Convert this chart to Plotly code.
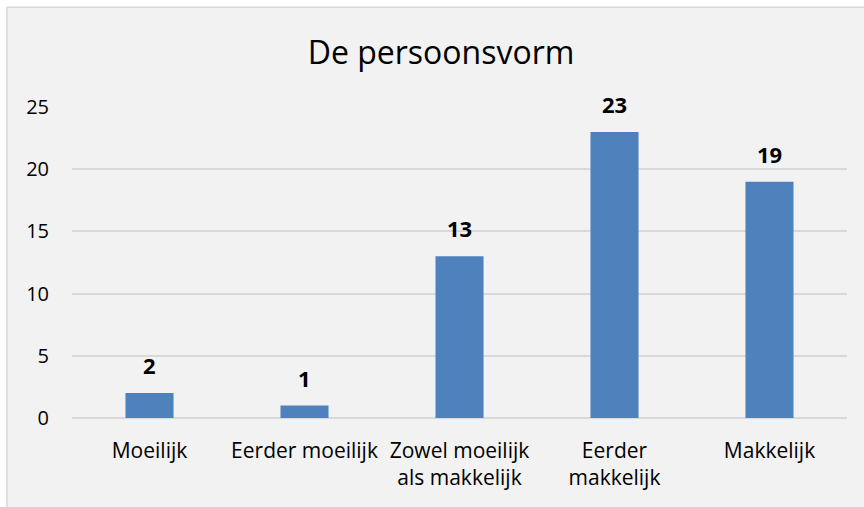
import plotly.graph_objects as go

categories = ["Moeilijk", "Eerder moeilijk", "Zowel moeilijk<br>als makkelijk", "Eerder<br>makkelijk", "Makkelijk"]
values = [2, 1, 13, 23, 19]
y_ticks = [0, 5, 10, 15, 20, 25]
title_text = "De persoonsvorm"

FONT = "Open Sans"
BAR_COLOR = "#4F81BD"
GRID = "#D9D9D9"

fig = go.Figure()
fig.add_trace(go.Bar(
    x=categories, y=values,
    marker=dict(color=BAR_COLOR, line=dict(width=0)),
    hoverinfo="skip",
))

for c, v in zip(categories, values):
    fig.add_annotation(x=c, y=v, text=f"<b>{v}</b>", showarrow=False,
                       yanchor="middle", yshift=28,
                       font=dict(family=FONT, size=22, color="#000000"))

# chart area background with border (top/left visible)
fig.add_shape(type="rect", xref="paper", yref="paper",
              x0=(7 - 72) / 775, x1=1.1, y0=-0.4, y1=(418.5 - 7) / 311.5,
              fillcolor="#F2F2F2", line=dict(color=GRID, width=1.5), layer="below")

fig.update_layout(
    width=864, height=507,
    margin=dict(l=72, r=17, t=107, b=88.5),
    paper_bgcolor="#FFFFFF",
    plot_bgcolor="rgba(0,0,0,0)",
    bargap=0.69,
    showlegend=False,
    font=dict(family=FONT, size=21, color="#000000"),
    title=dict(text=title_text, x=441 / 864, xanchor="center", xref="container",
               y=1 - 53 / 507, yanchor="middle", yref="container",
               font=dict(family=FONT, size=32, color="#000000")),
)
fig.update_xaxes(showgrid=False, showline=False, zeroline=False, ticks="",
                 tickfont=dict(family=FONT, size=21, color="#000000"),
                 ticklabelstandoff=18)
fig.update_yaxes(range=[0, 25], tickvals=y_ticks, showgrid=True, gridcolor=GRID,
                 gridwidth=1.5, zeroline=True, zerolinecolor=GRID, zerolinewidth=1.5,
                 showline=False, ticks="", ticklabelstandoff=22,
                 tickfont=dict(family=FONT, size=20, color="#000000"))

fig.write_html("out.html", config={"displayModeBar": False},
               post_script="document.body.style.margin='0';document.body.style.overflow='hidden';")
